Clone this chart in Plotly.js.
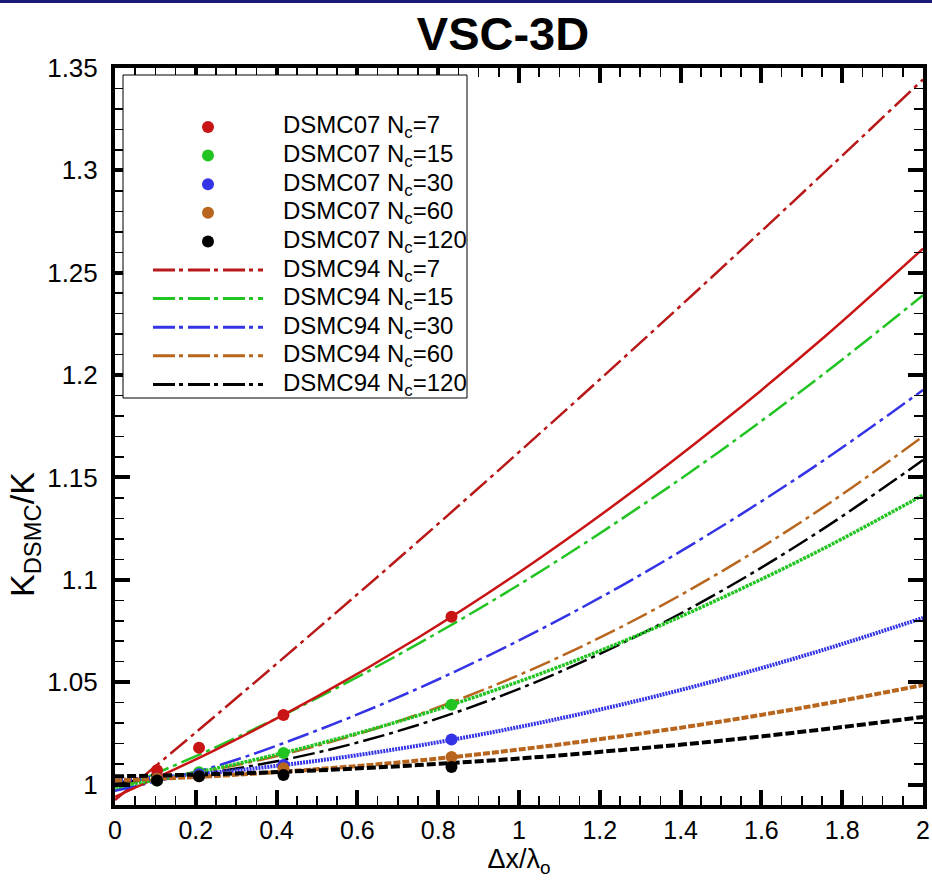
<!DOCTYPE html>
<html><head><meta charset="utf-8">
<script src="https://cdn.plot.ly/plotly-3.0.1.min.js"></script>
<style>html,body{margin:0;padding:0;background:#fff;} #chart{width:932px;height:880px;}</style>
</head><body><div id="chart"></div>
<script>
// ---------------- data ----------------
const ncValues = [7, 15, 30, 60, 120];
const seriesColors = ['#c81414', '#22c422', '#3434e6', '#b8661e', '#000000'];
const colors94 = ['#b81818', '#22c422', '#3434e6', '#b8661e', '#000000'];

// DSMC07 data points (markers)
const xDsmc07 = [0.104, 0.208, 0.417, 0.833];
const dsmc07_nc7   = [1.007, 1.018, 1.034, 1.082];
const dsmc07_nc15  = [1.002, 1.006, 1.0154, 1.039];
const dsmc07_nc30  = [1.003, 1.005, 1.0095, 1.022];
const dsmc07_nc60  = [1.003, 1.004, 1.008, 1.0134];
const dsmc07_nc120 = [1.002, 1.004, 1.0047, 1.0086];

// curves through DSMC07 (no legend entry)
const xCurve = [0, 0.25, 0.5, 0.75, 1, 1.25, 1.5, 1.75, 2];
const fit07_nc7   = [0.994, 1.0171, 1.0429, 1.0717, 1.1036, 1.1386, 1.1766, 1.2176, 1.2618];
const fit07_nc15  = [0.9988, 1.0079, 1.0197, 1.0337, 1.0503, 1.0693, 1.091, 1.1149, 1.1414];
const fit07_nc30  = [1.0019, 1.0059, 1.0116, 1.019, 1.0281, 1.0389, 1.0514, 1.0656, 1.0814];
const fit07_nc60  = [1.002, 1.0042, 1.0075, 1.0117, 1.0171, 1.0235, 1.0308, 1.0392, 1.0486];
const fit07_nc120 = [1.004, 1.0051, 1.0069, 1.0095, 1.0127, 1.0168, 1.0214, 1.0269, 1.033];

// DSMC94 curves
const dsmc94_nc7   = [0.9924, 1.0338, 1.0759, 1.1187, 1.1624, 1.2068, 1.252, 1.2979, 1.3444];
const dsmc94_nc15  = [0.997, 1.0183, 1.0422, 1.0687, 1.0976, 1.1292, 1.1632, 1.1999, 1.239];
const dsmc94_nc30  = [0.997, 1.009, 1.0264, 1.0469, 1.0704, 1.0967, 1.1259, 1.1578, 1.1927];
const dsmc94_nc60  = [1.0, 1.0075, 1.0189, 1.0342, 1.0535, 1.0767, 1.1039, 1.135, 1.17];
const dsmc94_nc120 = [1.001, 1.0063, 1.0156, 1.0291, 1.0467, 1.0685, 1.0944, 1.1245, 1.1585];

const xTickVals = [0, 0.2, 0.4, 0.6, 0.8, 1, 1.2, 1.4, 1.6, 1.8, 2];
const xTickText = ['0', '0.2', '0.4', '0.6', '0.8', '1', '1.2', '1.4', '1.6', '1.8', '2'];
const yTickVals = [1, 1.05, 1.1, 1.15, 1.2, 1.25, 1.3, 1.35];
const yTickText = ['1', '1.05', '1.1', '1.15', '1.2', '1.25', '1.3', '1.35'];

const dsmc07 = [dsmc07_nc7, dsmc07_nc15, dsmc07_nc30, dsmc07_nc60, dsmc07_nc120];
const fit07 = [fit07_nc7, fit07_nc15, fit07_nc30, fit07_nc60, fit07_nc120];
const dsmc94 = [dsmc94_nc7, dsmc94_nc15, dsmc94_nc30, dsmc94_nc60, dsmc94_nc120];

// ---------------- styles ----------------
const fitDash = ['solid', '3px,1px', '2px,1px', '7px,2px', '9px,3px'];
const fitWidth = [2.5, 3.5, 4, 4, 4];
const dash94 = '22px,5px,4px,5px';
const FONT = 'Liberation Sans, Arial, sans-serif';

const traces = [];
dsmc94.forEach((ys, i) => traces.push({
  x: xCurve, y: ys, type: 'scatter', mode: 'lines', showlegend: false,
  name: 'DSMC94 Nc=' + ncValues[i],
  line: {color: colors94[i], width: 2.5, dash: dash94, shape: 'spline'}
}));
fit07.forEach((ys, i) => traces.push({
  x: xCurve, y: ys, type: 'scatter', mode: 'lines', showlegend: false,
  name: 'DSMC07 fit Nc=' + ncValues[i],
  line: {color: seriesColors[i], width: fitWidth[i], dash: fitDash[i], shape: 'spline'}
}));
dsmc07.forEach((ys, i) => traces.push({
  x: xDsmc07, y: ys, type: 'scatter', mode: 'markers', showlegend: false,
  name: 'DSMC07 Nc=' + ncValues[i],
  marker: {color: seriesColors[i], size: 12, symbol: 'circle'}
}));

// ---------------- custom legend ----------------
const L = 115, R = 923, T = 68, B = 805;
const px2x = p => (p - L) / (R - L);
const py2y = p => (B - p) / (B - T);
const shapes = [];
const annotations = [];

shapes.push({type: 'rect', xref: 'paper', yref: 'paper', x0: -0.2, x1: 1.05,
  ysizemode: 'pixel', yanchor: 1, y0: 65, y1: 75, fillcolor: '#1a1a78', line: {width: 0}, layer: 'above'});
shapes.push({type: 'rect', xref: 'paper', yref: 'paper',
  x0: px2x(123), x1: px2x(467), y0: py2y(398), y1: py2y(75),
  fillcolor: 'white', line: {color: 'black', width: 1}, layer: 'above'});

const rowY0 = 127, rowStep = 28.6;
ncValues.forEach((nc, i) => {
  const yy = py2y(rowY0 + rowStep * i);
  shapes.push({type: 'circle', xref: 'paper', yref: 'paper', xsizemode: 'pixel', ysizemode: 'pixel',
    xanchor: px2x(208), yanchor: yy, x0: -6, x1: 6, y0: -6, y1: 6,
    fillcolor: seriesColors[i], line: {width: 0}, layer: 'above'});
  annotations.push({xref: 'paper', yref: 'paper', x: px2x(281), y: yy, xanchor: 'left', yanchor: 'middle',
    text: 'DSMC07 N<sub>c</sub>=' + nc, showarrow: false, font: {family: FONT, size: 24, color: 'black'}});
});
ncValues.forEach((nc, i) => {
  const yy = py2y(rowY0 + rowStep * (i + 5));
  shapes.push({type: 'line', xref: 'paper', yref: 'paper', x0: px2x(153), x1: px2x(263), y0: yy, y1: yy,
    line: {color: colors94[i], width: 3, dash: '22px,4px,4px,5px'}, layer: 'above'});
  annotations.push({xref: 'paper', yref: 'paper', x: px2x(281), y: yy, xanchor: 'left', yanchor: 'middle',
    text: 'DSMC94 N<sub>c</sub>=' + nc, showarrow: false, font: {family: FONT, size: 24, color: 'black'}});
});

// y-axis title placed as annotation (sits below the plot centre in the reference)
annotations.push({xref: 'paper', yref: 'paper', x: px2x(24), y: py2y(535), xanchor: 'center', yanchor: 'middle',
  textangle: -90, text: 'K<sub>DSMC</sub>/K', showarrow: false, font: {family: FONT, size: 34, color: 'black'}});

const axisCommon = {
  showline: true, linewidth: 4, linecolor: 'black', mirror: 'allticks',
  ticks: 'inside', ticklen: 15, tickwidth: 4, tickcolor: 'black',
  showgrid: false, zeroline: false,
  tickfont: {family: FONT, size: 26, color: 'black'}
};

const layout = {
  width: 932, height: 880,
  margin: {l: L, r: 932 - R, t: T, b: 880 - B},
  paper_bgcolor: 'white', plot_bgcolor: 'white',
  showlegend: false,
  title: {text: '<b>VSC-3D</b>', font: {family: FONT, size: 47, color: 'black'},
    x: 503 / 932, xref: 'container', xanchor: 'center', y: 1 - 34 / 880, yref: 'container', yanchor: 'middle'},
  xaxis: Object.assign({}, axisCommon, {
    range: [0, 2], tickmode: 'array', tickvals: xTickVals, ticktext: xTickText,
    ticklabelstandoff: 0,
    tickfont: {family: FONT, size: 25, color: 'black'},
    minor: {tick0: 0, dtick: 0.05, ticks: 'inside', ticklen: 9, tickwidth: 1.5, tickcolor: 'black'},
    title: {text: 'Δx/λ<sub>o</sub>', font: {family: FONT, size: 27, color: 'black'}, standoff: 7}
  }),
  yaxis: Object.assign({}, axisCommon, {
    range: [0.99, 1.35], tickmode: 'array', tickvals: yTickVals, ticktext: yTickText,
    ticklabelstandoff: 8,
    minor: {tick0: 1, dtick: 0.01, ticks: 'inside', ticklen: 9, tickwidth: 1.5, tickcolor: 'black'}
  }),
  shapes: shapes,
  annotations: annotations
};

Plotly.newPlot('chart', traces, layout, {displayModeBar: false, staticPlot: true});
</script></body></html>
